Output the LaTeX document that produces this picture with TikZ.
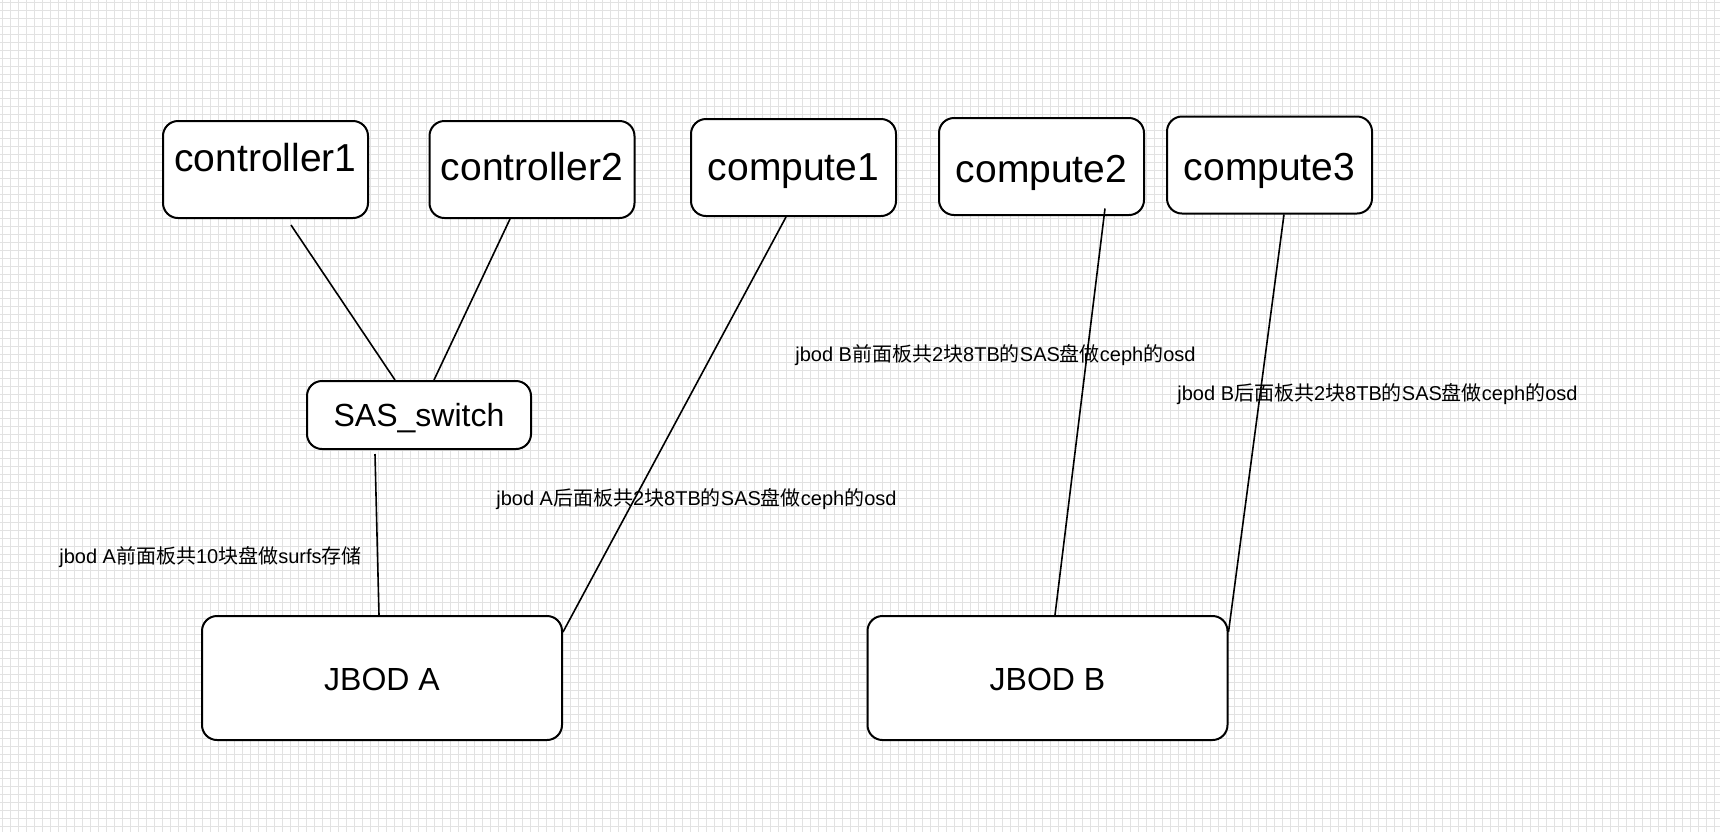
\documentclass[tikz,border=0pt]{standalone}
\usepackage{fontspec}
\setmainfont{Liberation Sans}
\newfontfamily\cjk{Noto Sans CJK SC}
\definecolor{gridgray}{HTML}{E2E2E2}

\newcommand{\hostwidth}{102.5pt}
\newcommand{\hostheight}{48.5pt}
\newcommand{\switchwidth}{112pt}
\newcommand{\switchheight}{34pt}
\newcommand{\jbodwidth}{180pt}
\newcommand{\jbodheight}{62pt}
\newcommand{\sideup}{23pt}

\tikzset{
  hostbox/.style={draw, line width=1pt, rounded corners=7.5pt, fill=white, inner sep=0pt,
    minimum width=\hostwidth, minimum height=\hostheight, font=\fontsize{19.5}{23}\selectfont},
  switchbox/.style={hostbox, minimum width=\switchwidth, minimum height=\switchheight,
    font=\fontsize{16}{19}\selectfont},
  jbodbox/.style={hostbox, minimum width=\jbodwidth, minimum height=\jbodheight,
    font=\fontsize{16}{19}\selectfont},
  lift/.style={text height=#1, text depth=0pt},
  wire/.style={line width=0.8pt},
  note/.style={anchor=base west, inner sep=0pt, font=\fontsize{10}{12}\selectfont},
  gridline/.style={line width=0.5pt, gridgray}
}

\begin{document}
\begin{tikzpicture}[x=0.5pt, y=-0.5pt]
  \useasboundingbox (0, 0) rectangle (1720, 832);
  \fill [white] (0, 0) rectangle (1720, 832);
  \foreach \gx in {2, 10, ..., 1714}
    \draw [gridline] (\gx, 0) -- (\gx, 832);
  \foreach \gy in {2, 10, ..., 826}
    \draw [gridline] (0, \gy) -- (1720, \gy);

  \node [hostbox, lift=1.5pt] (ctrlA) at (265.5, 169.5) {controller1};
  \node [hostbox, lift=10.5pt] (ctrlB) at (532, 169.5) {controller2};
  \node [hostbox, lift=12.5pt] (compA) at (793.5, 167.5) {compute1};
  \node [hostbox, lift=15.5pt] (compB) at (1041.5, 166.5) {compute2};
  \node [hostbox, lift=15.5pt] (compC) at (1269.5, 165) {compute3};

  \node [switchbox, lift=11pt] (sas) at (419, 415) {SAS\_switch};

  \node [jbodbox, lift=12pt] (jbodA) at (382, 678) {JBOD A};
  \node [jbodbox, lift=12pt] (jbodB) at (1047.5, 678) {JBOD B};

  \draw [wire] ([xshift=12.75pt, yshift=-3pt]ctrlA.south) -- ([xshift=-12pt]sas.north);
  \draw [wire] ([xshift=-11pt]ctrlB.south) -- ([xshift=7.5pt]sas.north);
  \draw [wire] ([xshift=-22pt, yshift=-2pt]sas.south) -- ([xshift=-1.5pt]jbodA.north);
  \draw [wire] ([xshift=-3.75pt]compA.south) -- ([yshift=\sideup]jbodA.east);
  \draw [wire] ([xshift=31.75pt, yshift=3.75pt]compB.south) -- ([xshift=3.75pt]jbodB.north);
  \draw [wire] ([xshift=7.25pt]compC.south) -- ([yshift=\sideup]jbodB.east);

  \node [note] (frontA) at (59, 563) {jbod A{\cjk 前面板共}10{\cjk 块盘做}surfs{\cjk 存储}};
  \node [note] (backA) at (496, 505) {jbod A{\cjk 后面板共}2{\cjk 块}8TB{\cjk 的}SAS{\cjk 盘做}ceph{\cjk 的}osd};
  \node [note] (frontB) at (795, 361) {jbod B{\cjk 前面板共}2{\cjk 块}8TB{\cjk 的}SAS{\cjk 盘做}ceph{\cjk 的}osd};
  \node [note] (backB) at (1177, 400) {jbod B{\cjk 后面板共}2{\cjk 块}8TB{\cjk 的}SAS{\cjk 盘做}ceph{\cjk 的}osd};
\end{tikzpicture}
\end{document}
